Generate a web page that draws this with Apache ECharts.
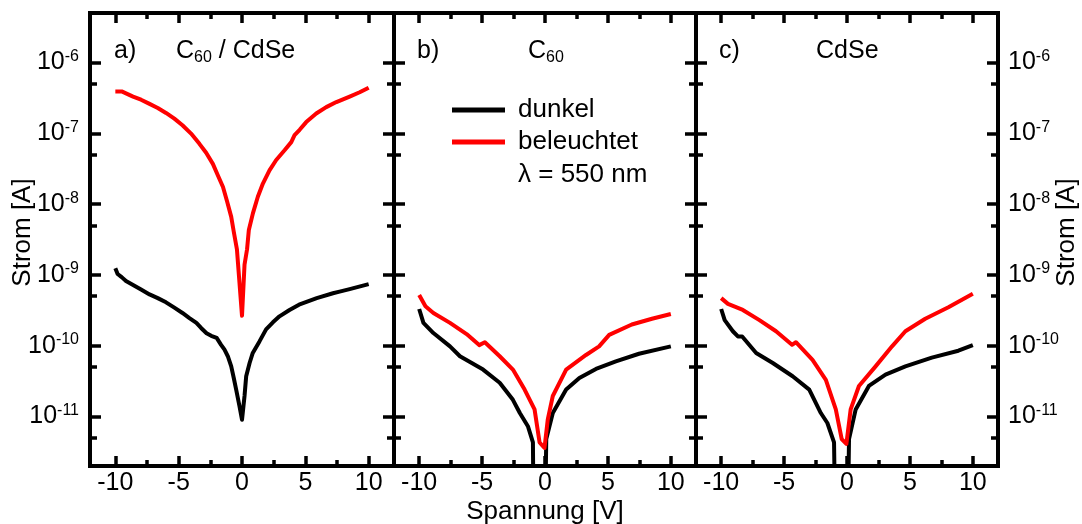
<!DOCTYPE html>
<html>
<head>
<meta charset="utf-8">
<script src="https://cdn.jsdelivr.net/npm/echarts@6/dist/echarts.min.js"></script>
<style>
  html, body { margin: 0; padding: 0; background: #fff; }
  #chart { width: 1082px; height: 524px; }
</style>
</head>
<body>
<div id="chart"></div>
<script>
// Current–voltage curves of three layer stacks, dark and illuminated (log current axis)
const FONT = '"Liberation Sans", Arial, Helvetica, sans-serif';

const xTicks = [-10, -5, 0, 5, 10];
const xMinorTicks = [-7.5, -2.5, 2.5, 7.5];
const yTicks = [1e-11, 1e-10, 1e-9, 1e-8, 1e-7, 1e-6];
const yMinorTicks = [5e-12, 5e-11, 5e-10, 5e-9, 5e-8, 5e-7];
const seriesNames = ['dunkel', 'beleuchtet'];
const panelLetters = ['a)', 'b)', 'c)'];
const panelMaterials = ['{n|C}{sub|60}{n| / CdSe}', '{n|C}{sub|60}', '{n|CdSe}'];
const illumination = 'λ = 550 nm';

// a) C60 / CdSe
const voltA_dark = [-10, -9.82, -9.5, -9.16, -8.6, -7.97, -7.3, -6.65, -6.0, -5.34, -4.7, -4.15, -3.6, -3.23, -2.8, -2.43, -2.0, -1.65, -1.38, -1.12, -0.85, -0.65, -0.46, -0.2, 0, 0.2, 0.33, 0.6, 0.85, 1.38, 1.9, 2.44, 2.96, 3.75, 4.5, 5.9, 7.18, 7.7, 8.5, 10];
const currA_dark = [1.24e-9, 1.03e-9, 9.3e-10, 8.2e-10, 7.2e-10, 6.2e-10, 5.3e-10, 4.7e-10, 4.1e-10, 3.45e-10, 2.9e-10, 2.45e-10, 2.1e-10, 1.78e-10, 1.5e-10, 1.38e-10, 1.29e-10, 1.03e-10, 8.8e-11, 7.1e-11, 5.1e-11, 3.5e-11, 2.4e-11, 1.4e-11, 9e-12, 1.95e-11, 3.7e-11, 5.7e-11, 7.9e-11, 1.15e-10, 1.7e-10, 2.14e-10, 2.6e-10, 3.2e-10, 3.8e-10, 4.7e-10, 5.5e-10, 5.8e-10, 6.3e-10, 7.4e-10];
const voltA_light = [-10, -9.5, -8.6, -7.97, -7.3, -6.65, -6.0, -5.34, -4.7, -4.02, -3.36, -2.83, -2.3, -1.91, -1.5, -1.17, -0.85, -0.65, -0.4, 0, 0.2, 0.4, 0.54, 0.86, 1.25, 1.65, 2.17, 2.7, 3.36, 3.89, 4.15, 4.55, 5.07, 5.86, 6.65, 7.45, 8.5, 9.29, 10];
const currA_light = [3.9e-7, 3.9e-7, 3.3e-7, 2.98e-7, 2.6e-7, 2.28e-7, 1.94e-7, 1.61e-7, 1.3e-7, 9.9e-8, 7.1e-8, 5.3e-8, 3.7e-8, 2.56e-8, 1.74e-8, 1.08e-8, 6.6e-9, 4.07e-9, 2.3e-9, 2.65e-10, 1.4e-9, 2.3e-9, 4.3e-9, 7.4e-9, 1.27e-8, 1.95e-8, 3.0e-8, 4.2e-8, 5.75e-8, 7.5e-8, 9.4e-8, 1.12e-7, 1.44e-7, 1.9e-7, 2.34e-7, 2.76e-7, 3.3e-7, 3.8e-7, 4.4e-7];

// b) C60  (null = current sign change, curve interrupted)
const voltB_dark = [-10, -9.66, -8.87, -7.55, -6.76, -4.92, -3.6, -2.55, -2.0, -1.36, -0.96, -0.83, -0.5, -0.12, 0.1, 0.62, 1.68, 2.73, 4.05, 5.63, 7.47, 10];
const currB_dark = [3.3e-10, 2.1e-10, 1.51e-10, 9.8e-11, 7.1e-11, 4.6e-11, 3.0e-11, 1.72e-11, 1.12e-11, 7.3e-12, 4.3e-12, 1e-14, null, 1e-14, 4.8e-12, 1.12e-11, 2.4e-11, 3.5e-11, 4.7e-11, 6.0e-11, 7.7e-11, 9.8e-11];
const voltB_light = [-10, -9.5, -8.87, -7.55, -6.23, -5.23, -4.78, -3.6, -2.55, -1.62, -0.83, -0.43, -0.04, 0.22, 0.62, 1.68, 3.26, 4.3, 5.1, 6.9, 8.5, 10];
const currB_light = [5.2e-10, 3.6e-10, 2.9e-10, 2.1e-10, 1.46e-10, 1.02e-10, 1.12e-10, 7.1e-11, 4.6e-11, 2.4e-11, 1.26e-11, 4.3e-12, 3.6e-12, 9.1e-12, 1.95e-11, 4.6e-11, 7.4e-11, 9.8e-11, 1.42e-10, 1.99e-10, 2.4e-10, 2.8e-10];

// c) CdSe
const voltC_dark = [-10, -9.72, -9.07, -8.67, -8.33, -7.22, -5.9, -4.32, -3.0, -2.08, -1.56, -1.03, -0.81, -0.4, -0.05, 0.16, 0.69, 1.74, 3.06, 4.64, 6.74, 8.85, 10];
const currC_dark = [3.3e-10, 2.3e-10, 1.6e-10, 1.35e-10, 1.35e-10, 7.9e-11, 5.7e-11, 3.7e-11, 2.4e-11, 1.12e-11, 8.1e-12, 4.3e-12, 1e-14, null, 1e-14, 4.8e-12, 1.26e-11, 2.7e-11, 3.9e-11, 5.1e-11, 6.8e-11, 8.5e-11, 1.02e-10];
const voltC_light = [-10, -9.46, -8.28, -6.96, -5.64, -4.37, -4.06, -2.74, -1.68, -0.89, -0.42, -0.05, 0.29, 0.95, 2.27, 3.58, 4.64, 6.22, 8.06, 10];
const currC_light = [4.7e-10, 3.9e-10, 3.2e-10, 2.3e-10, 1.6e-10, 1.03e-10, 1.12e-10, 6.3e-11, 3.3e-11, 1.26e-11, 4.8e-12, 4.1e-12, 1.26e-11, 2.7e-11, 5.1e-11, 9.8e-11, 1.6e-10, 2.4e-10, 3.5e-10, 5.4e-10];

const panelData = [
  [[voltA_dark, currA_dark], [voltA_light, currA_light]],
  [[voltB_dark, currB_dark], [voltB_light, currB_light]],
  [[voltC_dark, currC_dark], [voltC_light, currC_light]]
];

// layout
const grids = [
  { left: 90, top: 13, width: 304, height: 453 },
  { left: 394, top: 13, width: 302, height: 453 },
  { left: 696, top: 13, width: 302, height: 453 }
];
const X_MIN = -12, X_MAX = 12;
const Y_MIN = 2e-12, Y_MAX = 5e-6;
const colors = ['#000000', '#ff0000'];
const FRAME = { color: '#000', width: 4, cap: 'square' };
const TICK = { color: '#000', width: 3.5 };

const zip = (v, c) => v.map((x, i) => [x, c[i] === null ? '-' : c[i]]);

const supRich = {
  b: { fontSize: 25, fontFamily: FONT, color: '#000', lineHeight: 28 },
  s: { fontSize: 16, fontFamily: FONT, color: '#000', lineHeight: 16, verticalAlign: 'top' }
};
const expLabel = v => '{b|10}{s|' + Math.round(Math.log10(v)) + '}';

const xAxes = [], yAxes = [], series = [];
grids.forEach((g, i) => {
  // bottom / top frame with major ticks, then minor-tick layers
  [['bottom', true], ['top', false]].forEach(([pos, labelled]) => {
    xAxes.push({
      gridIndex: i, type: 'value', min: X_MIN, max: X_MAX, position: pos,
      axisLine: { show: true, onZero: false, lineStyle: FRAME },
      axisTick: { show: true, inside: true, length: 10, lineStyle: TICK, customValues: xTicks },
      axisLabel: { show: labelled, customValues: xTicks, fontSize: 25, fontFamily: FONT, color: '#000', margin: 5 },
      splitLine: { show: false },
      name: (labelled && i === 1) ? 'Spannung [V]' : '',
      nameLocation: 'middle', nameGap: 33, nameMoveOverlap: false,
      nameTextStyle: { fontSize: 26, fontFamily: FONT, color: '#000' }
    });
  });
  ['bottom', 'top'].forEach(pos => {
    xAxes.push({
      gridIndex: i, type: 'value', min: X_MIN, max: X_MAX, position: pos,
      axisLine: { show: false, onZero: false },
      axisTick: { show: true, inside: true, length: 6, lineStyle: TICK, customValues: xMinorTicks },
      axisLabel: { show: false }, splitLine: { show: false }
    });
  });

  [['left', i === 0], ['right', i === 2]].forEach(([pos, labelled]) => {
    yAxes.push({
      gridIndex: i, type: 'log', logBase: 10, min: Y_MIN, max: Y_MAX, position: pos,
      axisLine: { show: true, onZero: false, lineStyle: FRAME },
      axisTick: { show: true, inside: true, length: 11, lineStyle: TICK, customValues: yTicks },
      axisLabel: {
        show: labelled, customValues: yTicks, formatter: expLabel, rich: supRich,
        fontSize: 25, fontFamily: FONT, color: '#000', margin: pos === 'left' ? 11 : 10
      },
      splitLine: { show: false },
      name: labelled ? 'Strom [A]' : '',
      nameLocation: 'middle', nameRotate: 90, nameGap: pos === 'left' ? 54 : 56,
      nameMoveOverlap: false,
      nameTextStyle: { fontSize: 26, fontFamily: FONT, color: '#000', padding: [0, 0, 0, 14] }
    });
  });
  ['left', 'right'].forEach(pos => {
    yAxes.push({
      gridIndex: i, type: 'log', logBase: 10, min: Y_MIN, max: Y_MAX, position: pos,
      axisLine: { show: false, onZero: false },
      axisTick: { show: true, inside: true, length: 7, lineStyle: TICK, customValues: yMinorTicks },
      axisLabel: { show: false }, splitLine: { show: false }
    });
  });

  panelData[i].forEach(([v, c], k) => {
    series.push({
      name: seriesNames[k], type: 'line',
      xAxisIndex: 4 * i, yAxisIndex: 4 * i,
      data: zip(v, c),
      showSymbol: false, symbol: 'none', smooth: false, clip: true,
      connectNulls: false,
      lineStyle: { color: colors[k], width: 4, join: 'round' },
      itemStyle: { color: colors[k] },
      z: 3 + k
    });
  });
});

const titleStyle = {
  fontSize: 25, fontWeight: 'normal', fontFamily: FONT, color: '#000', lineHeight: 30,
  rich: {
    n: { fontSize: 25, fontFamily: FONT, color: '#000', lineHeight: 30 },
    sub: { fontSize: 16, fontFamily: FONT, color: '#000', lineHeight: 16, verticalAlign: 'bottom' }
  }
};
const letterX = [114, 417, 719];
const materialX = [176, 528, 816];
const titles = [];
panelLetters.forEach((t, i) => {
  titles.push({ text: t, left: letterX[i], top: 36, padding: 0, textStyle: titleStyle });
  titles.push({ text: panelMaterials[i], left: materialX[i], top: 36, padding: 0, textStyle: titleStyle });
});

const chart = echarts.init(document.getElementById('chart'), null, { renderer: 'canvas' });
chart.setOption({
  animation: false,
  backgroundColor: '#fff',
  title: titles,
  grid: grids.map(g => Object.assign({ containLabel: false, outerBoundsMode: 'none' }, g)),
  xAxis: xAxes,
  yAxis: yAxes,
  legend: {
    data: seriesNames, orient: 'vertical', left: 452, top: 97,
    icon: 'rect', itemWidth: 53, itemHeight: 5, itemGap: 6,
    selectedMode: false, padding: 0,
    textStyle: { fontSize: 26, fontFamily: FONT, color: '#000', lineHeight: 26, padding: [0, 0, 0, 8] }
  },
  graphic: [{
    type: 'text', left: 518, top: 162,
    style: { text: illumination, font: '26px ' + FONT, fill: '#000' }
  }],
  series: series
});
</script>
</body>
</html>
